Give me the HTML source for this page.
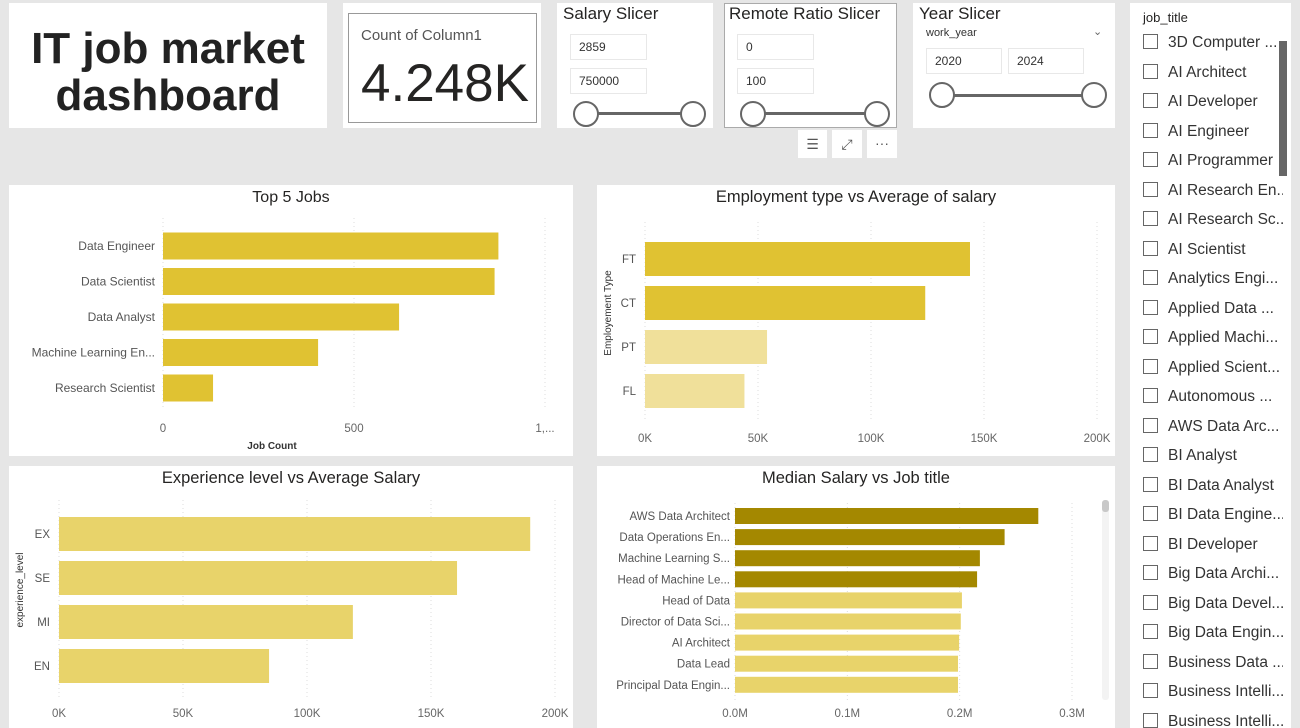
<!DOCTYPE html>
<html><head><meta charset="utf-8">
<style>
*{box-sizing:border-box;margin:0;padding:0}
body{width:1300px;height:728px;background:#e6e6e6;position:relative;overflow:hidden;font-family:"Liberation Sans","DejaVu Sans",sans-serif;color:#252423}
.card{position:absolute;background:#fff}
.abs{position:absolute}
.inp{position:absolute;border:1px solid #e8e8e8;font-size:12px;padding-left:8px;line-height:24px;height:26px;color:#333}
.knob{position:absolute;width:26px;height:26px;border:2px solid #666;border-radius:50%;background:#fff}
.track{position:absolute;height:3px;background:#666}
.st{position:absolute;font-size:17px;color:#252423}
svg text{font-family:"Liberation Sans","DejaVu Sans",sans-serif}
</style></head><body>
<div class="card" style="left:9px;top:3px;width:318px;height:125px">
 <div class="abs" style="left:0;top:22px;width:318px;text-align:center;font-weight:bold;font-size:44px;line-height:47px;color:#222">IT job market<br>dashboard</div>
</div>
<div class="card" style="left:343px;top:3px;width:198px;height:125px">
 <div class="abs" style="left:5px;top:10px;width:189px;height:110px;border:1px solid #999"></div>
 <div class="abs" style="left:18px;top:24px;font-size:15px;color:#555">Count of Column1</div>
 <div class="abs" style="left:18px;top:50px;font-size:53px;color:#252423">4.248K</div>
</div>
<div class="card" style="left:557px;top:3px;width:156px;height:125px">
 <div class="st" style="left:6px;top:1px">Salary Slicer</div>
 <div class="inp" style="left:13px;top:31px;width:77px">2859</div>
 <div class="inp" style="left:13px;top:65px;width:77px">750000</div>
 <div class="track" style="left:28px;top:109px;width:108px"></div>
 <div class="knob" style="left:16px;top:98px"></div>
 <div class="knob" style="left:123px;top:98px"></div>
</div>
<div class="card" style="left:724px;top:3px;width:173px;height:125px;border:1px solid #aaa">
 <div class="st" style="left:4px;top:0px">Remote Ratio Slicer</div>
 <div class="inp" style="left:12px;top:30px;width:77px">0</div>
 <div class="inp" style="left:12px;top:64px;width:77px">100</div>
 <div class="track" style="left:27px;top:108px;width:125px"></div>
 <div class="knob" style="left:15px;top:97px"></div>
 <div class="knob" style="left:139px;top:97px"></div>
</div>
<div class="card" style="left:913px;top:3px;width:202px;height:125px">
 <div class="st" style="left:6px;top:1px">Year Slicer</div>
 <div class="abs" style="left:13px;top:24px;font-size:11px;color:#333">work_year</div>
 <div class="abs" style="left:180px;top:22px;font-size:11px;color:#666">⌄</div>
 <div class="inp" style="left:13px;top:45px;width:76px">2020</div>
 <div class="inp" style="left:95px;top:45px;width:76px">2024</div>
 <div class="track" style="left:29px;top:91px;width:150px"></div>
 <div class="knob" style="left:16px;top:79px"></div>
 <div class="knob" style="left:168px;top:79px"></div>
</div>
<div class="card" style="left:798px;top:130px;width:29px;height:28px;text-align:center;line-height:28px;color:#555;font-size:14px">☰</div>
<div class="card" style="left:832px;top:130px;width:30px;height:28px;text-align:center;line-height:28px;color:#555;font-size:14px">⤢</div>
<div class="card" style="left:867px;top:130px;width:30px;height:28px;text-align:center;line-height:26px;color:#555;font-size:14px">···</div>

<div class="card" style="left:1130px;top:3px;width:161px;height:725px;overflow:hidden">
 <div class="abs" style="left:13px;top:7px;font-size:13px;color:#252423">job_title</div>
 <div class="abs" style="left:149px;top:38px;width:8px;height:135px;background:#666"></div>
 <div id="jobs"></div>
</div>

<svg class="abs" style="left:0;top:0" width="1300" height="728" id="charts">
 <rect x="9" y="185" width="564" height="271" fill="#fff"/>
 <rect x="597" y="185" width="518" height="271" fill="#fff"/>
 <rect x="9" y="466" width="564" height="262" fill="#fff"/>
 <rect x="597" y="466" width="518" height="262" fill="#fff"/>
 <text x="291" y="202" text-anchor="middle" font-size="16" fill="#252423">Top 5 Jobs</text>
 <text x="856" y="202" text-anchor="middle" font-size="16.5" fill="#252423">Employment type vs Average of salary</text>
 <text x="291" y="483" text-anchor="middle" font-size="16.5" fill="#252423">Experience level vs Average Salary</text>
 <text x="856" y="483" text-anchor="middle" font-size="16.5" fill="#252423">Median Salary vs Job title</text>
 <text x="272" y="449" text-anchor="middle" font-size="10" font-weight="bold" fill="#333">Job Count</text>
 <text transform="translate(611,313) rotate(-90)" text-anchor="middle" font-size="10" fill="#333">Employement Type</text>
 <text transform="translate(23,590) rotate(-90)" text-anchor="middle" font-size="10" fill="#333">experience_level</text>
 <rect x="1102" y="500" width="7" height="200" rx="3" fill="#f3f3f3"/>
 <rect x="1102" y="500" width="7" height="12" rx="3" fill="#c8c8c8"/>
 <g id="g1"></g><g id="g2"></g><g id="g3"></g><g id="g4"></g>
</svg>

<script>
const NS='http://www.w3.org/2000/svg';
// Top 5 Jobs
const top5Cats=['Data Engineer','Data Scientist','Data Analyst','Machine Learning En...','Research Scientist'];
const top5Vals=[878,868,618,406,131];
const top5Ticks=[0,500,1000];
const top5TickLabels=['0','500','1,...'];
// Employment type
const empCats=['FT','CT','PT','FL'];
const empVals=[143800,124000,54000,44000];
const empTicks=[0,50000,100000,150000,200000];
const empTickLabels=['0K','50K','100K','150K','200K'];
// Experience
const expCats=['EX','SE','MI','EN'];
const expVals=[190000,160500,118500,84700];
const expTicks=[0,50000,100000,150000,200000];
const expTickLabels=['0K','50K','100K','150K','200K'];
// Median salary
const medCats=['AWS Data Architect','Data Operations En...','Machine Learning S...','Head of Machine Le...','Head of Data','Director of Data Sci...','AI Architect','Data Lead','Principal Data Engin...'];
const medVals=[270000,240000,218000,215500,202000,201000,199500,198500,198500];
const medTicks=[0,100000,200000,300000];
const medTickLabels=['0.0M','0.1M','0.2M','0.3M'];
const jobTitles=['3D Computer ...','AI Architect','AI Developer','AI Engineer','AI Programmer','AI Research En...','AI Research Sc...','AI Scientist','Analytics Engi...','Applied Data ...','Applied Machi...','Applied Scient...','Autonomous ...','AWS Data Arc...','BI Analyst','BI Data Analyst','BI Data Engine...','BI Developer','Big Data Archi...','Big Data Devel...','Big Data Engin...','Business Data ...','Business Intelli...','Business Intelli...'];

function mk(tag,attrs,parent){const e=document.createElementNS(NS,tag);for(const k in attrs)e.setAttribute(k,attrs[k]);parent.appendChild(e);return e;}

function drawChart(g,cfg){
 const x=v=>cfg.x0+(v-cfg.min)/(cfg.max-cfg.min)*(cfg.x1-cfg.x0);
 const y=i=>cfg.yTop+i*cfg.step;
 cfg.ticks.forEach((t,i)=>{
  const ln=mk('line',{x1:x(t),x2:x(t),y1:cfg.gTop,y2:cfg.gBot,stroke:'#ddd','stroke-dasharray':'1,3'},g);
  
  
  const tx=mk('text',{x:x(t),y:cfg.tickY,'text-anchor':'middle','font-size':11.5,fill:'#666'},g);
  tx.textContent=cfg.tickLabels[i];
  
  
 });
 cfg.cats.forEach((c,i)=>{
  const cy=y(i);
  const r=mk('rect',{x:x(0),y:cy-cfg.h/2,width:x(cfg.vals[i])-x(0),height:cfg.h,fill:cfg.color(i)},g);
  
  
  const t=mk('text',{x:x(0)-cfg.labGap,y:cy+4,'text-anchor':'end','font-size':cfg.fs,fill:'#555'},g);
  t.textContent=c;
  
  
 });
}
drawChart(document.getElementById('g1'),{cats:top5Cats,vals:top5Vals,ticks:top5Ticks,tickLabels:top5TickLabels,min:0,max:1000,x0:163,x1:545,yTop:246,step:35.5,h:27,gTop:218,gBot:410,tickY:432,labGap:8,fs:12,color:()=>'#e0c232'});
drawChart(document.getElementById('g2'),{cats:empCats,vals:empVals,ticks:empTicks,tickLabels:empTickLabels,min:0,max:200000,x0:645,x1:1097,yTop:259,step:44,h:34,gTop:222,gBot:420,tickY:442,labGap:9,fs:11.5,color:i=>i<2?'#e0c232':'#f0e09a'});
drawChart(document.getElementById('g3'),{cats:expCats,vals:expVals,ticks:expTicks,tickLabels:expTickLabels,min:0,max:200000,x0:59,x1:555,yTop:534,step:44,h:34,gTop:500,gBot:700,tickY:717,labGap:9,fs:11.5,color:()=>'#e8d36a'});
drawChart(document.getElementById('g4'),{cats:medCats,vals:medVals,ticks:medTicks,tickLabels:medTickLabels,min:0,max:300000,x0:735,x1:1072,yTop:516,step:21.1,h:16,gTop:503,gBot:700,tickY:717,labGap:5,fs:11.5,color:i=>i<4?'#a48800':'#e8d36a'});

const jl=document.getElementById('jobs');
jobTitles.forEach((j,i)=>{
 const d=document.createElement('div');
 d.className='abs';
 d.style.cssText='left:13px;top:'+(30+i*29.5)+'px;height:20px;width:140px;white-space:nowrap;overflow:hidden;font-size:15.5px;color:#333;line-height:20px';
 d.innerHTML='<span style="display:inline-block;width:15px;height:15px;border:1px solid #666;vertical-align:-2px;margin-right:10px"></span>'+j;
 
 
 jl.appendChild(d);
});
</script>
</body></html>
